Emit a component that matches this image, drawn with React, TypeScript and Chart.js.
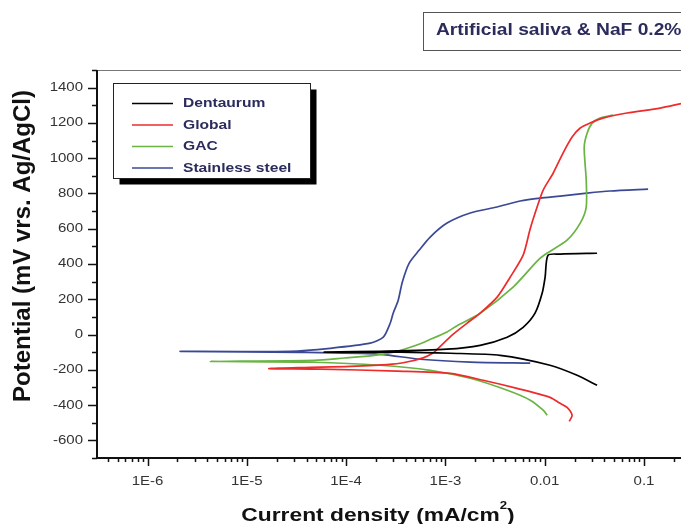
import React, { useEffect, useRef } from "react";
import { Chart, registerables } from "chart.js";

Chart.register(...registerables);

// ---- data (current density mA/cm2, potential mV) ----
const dentaurumCurrent = [3.37e-2, 2.12e-2, 1.13e-2, 3.56e-3, 1.12e-3, 3.5e-4, 6.03e-5, 2.2e-4, 1.04e-3, 2.24e-3, 4.19e-3, 6.07e-3, 8.0e-3, 9.44e-3, 1.01e-2, 1.08e-2, 1.43e-2, 3.37e-2];
const dentaurumPotential = [-288, -231, -174, -118, -106, -100, -100, -95, -83, -61, -15, 41, 121, 235, 325, 450, 456, 461];

const globalCurrent = [1.77e-2, 1.89e-2, 1.68e-2, 1.43e-2, 1.13e-2, 5.27e-3, 2.4e-3, 1.12e-3, 3.27e-4, 5.48e-5, 1.67e-5, 3.79e-5, 1.1e-4, 2.59e-4, 3.76e-4, 5.97e-4, 7.52e-4, 8.26e-4, 1.2e-3, 1.78e-3, 2.24e-3, 3.32e-3, 4.49e-3, 6.07e-3, 7.15e-3, 8.39e-3, 9.66e-3, 1.22e-2, 1.53e-2, 1.89e-2, 2.28e-2, 2.86e-2, 3.87e-2, 6.75e-2, 0.145, 0.236];
const globalPotential = [-492, -458, -413, -390, -356, -305, -259, -220, -207, -196, -193, -187, -181, -170, -160, -132, -105, -84, 2, 78, 121, 212, 325, 450, 600, 723, 819, 916, 1029, 1120, 1171, 1199, 1227, 1256, 1284, 1310];

const gacCurrent = [1.06e-2, 9.66e-3, 7.15e-3, 4.2e-3, 1.78e-3, 7.03e-4, 2.2e-4, 4.68e-5, 4.3e-6, 4.78e-5, 9.57e-5, 1.92e-4, 3.0e-4, 5.0e-4, 7.0e-4, 1.04e-3, 1.31e-3, 2.24e-3, 4.81e-3, 8.59e-3, 1.06e-2, 1.68e-2, 2.28e-2, 2.62e-2, 2.62e-2, 2.5e-2, 2.68e-2, 3.01e-2, 3.61e-2, 4.89e-2];
const gacPotential = [-458, -429, -372, -316, -248, -203, -174, -157, -152, -146, -133, -118, -100, -62, -28, 15, 50, 121, 269, 422, 462, 535, 632, 723, 876, 1063, 1143, 1199, 1227, 1244];

const steelCurrent = [7.15e-3, 1.78e-3, 5.57e-4, 2.2e-4, 3.45e-5, 2.13e-6, 2.73e-5, 6.9e-5, 1.75e-4, 2.37e-4, 2.78e-4, 2.98e-4, 3.35e-4, 3.68e-4, 4.32e-4, 5.45e-4, 7.03e-4, 1.04e-3, 1.78e-3, 3.32e-3, 5.66e-3, 9.0e-3, 1.43e-2, 2.67e-2, 4.56e-2, 0.11];
const steelPotential = [-162, -156, -140, -112, -101, -95, -95, -78, -49, -15, 64, 121, 195, 297, 405, 479, 553, 632, 689, 723, 757, 774, 785, 802, 814, 825];

const seriesLabels = ["Dentaurum", "Global", "GAC", "Stainless steel"];
const seriesColors = ["#000000", "#ee2b2b", "#69b443", "#3b4894"];

const yMajorTicks = [-600, -400, -200, 0, 200, 400, 600, 800, 1000, 1200, 1400];
const yMinorTicks = [-700, -500, -300, -100, 100, 300, 500, 700, 900, 1100, 1300, 1500];
const xMajorTicks = [1e-6, 1e-5, 1e-4, 1e-3, 1e-2, 1e-1];
const xTickLabels = ["1E-6", "1E-5", "1E-4", "1E-3", "0.01", "0.1"];
const xMinorMultipliers = [2, 3, 4, 5, 6, 7, 8, 9];
const xMinorDecades = [1e-7, 1e-6, 1e-5, 1e-4, 1e-3, 1e-2, 1e-1];

const chartTitle = "Artificial saliva & NaF 0.2%";
const xTitle = "Current density (mA/cm";
const yTitle = "Potential (mV vrs. Ag/AgCl)";

const SX = 1.2;
const NAVY = "#2b2b5c";

function sText(ctx: CanvasRenderingContext2D, text: string, x: number, y: number, font: string, color: string, align: CanvasTextAlign) {
  ctx.save();
  ctx.translate(x, y);
  ctx.scale(SX, 1);
  ctx.font = font;
  ctx.fillStyle = color;
  ctx.textAlign = align;
  ctx.textBaseline = "middle";
  ctx.fillText(text, 0, 0);
  ctx.restore();
}

const decor = {
  id: "decor",
  beforeDraw(chart: any) {
    const ctx = chart.ctx;
    ctx.save();
    ctx.fillStyle = "#ffffff";
    ctx.fillRect(0, 0, chart.width, chart.height);
    ctx.restore();
  },
  afterDraw(chart: any) {
    const ctx: CanvasRenderingContext2D = chart.ctx;
    const { left, right, top, bottom } = chart.chartArea;
    const xs = chart.scales.x;
    const ys = chart.scales.y;
    ctx.save();

    // top frame
    ctx.strokeStyle = "#777777";
    ctx.lineWidth = 1;
    ctx.beginPath();
    ctx.moveTo(left, top + 0.5);
    ctx.lineTo(right, top + 0.5);
    ctx.stroke();

    // axes
    ctx.strokeStyle = "#111111";
    ctx.lineWidth = 2;
    ctx.beginPath();
    ctx.moveTo(left, top);
    ctx.lineTo(left, bottom);
    ctx.lineTo(right, bottom);
    ctx.stroke();

    // y ticks
    ctx.lineWidth = 1.5;
    ctx.beginPath();
    yMajorTicks.forEach((v) => {
      const p = Math.round(ys.getPixelForValue(v)) + 0.5;
      ctx.moveTo(left, p);
      ctx.lineTo(left - 9, p);
    });
    yMinorTicks.forEach((v) => {
      const p = Math.round(ys.getPixelForValue(v)) + 0.5;
      ctx.moveTo(left, p);
      ctx.lineTo(left - 5, p);
    });
    // x ticks
    xMajorTicks.forEach((v) => {
      const p = Math.round(xs.getPixelForValue(v)) + 0.5;
      ctx.moveTo(p, bottom);
      ctx.lineTo(p, bottom + 8);
    });
    xMinorDecades.forEach((d) => {
      xMinorMultipliers.forEach((m) => {
        const v = d * m;
        if (v < xs.min || v > xs.max) return;
        const p = Math.round(xs.getPixelForValue(v)) + 0.5;
        ctx.moveTo(p, bottom);
        ctx.lineTo(p, bottom + 4);
      });
    });
    ctx.stroke();

    // tick labels
    const tickFont = "12.5px 'Liberation Sans', Arial, sans-serif";
    yMajorTicks.forEach((v) => {
      sText(ctx, String(v), left - 14, ys.getPixelForValue(v), tickFont, "#333333", "right");
    });
    xMajorTicks.forEach((v, i) => {
      sText(ctx, xTickLabels[i], xs.getPixelForValue(v), bottom + 24, tickFont, "#333333", "center");
    });

    // x title with superscript
    const tf = "bold 19px 'Liberation Sans', Arial, sans-serif";
    const sf = "bold 11px 'Liberation Sans', Arial, sans-serif";
    ctx.font = tf;
    const w1 = ctx.measureText(xTitle).width * SX;
    ctx.font = sf;
    const w2 = ctx.measureText("2").width * SX;
    ctx.font = tf;
    const w3 = ctx.measureText(")").width * SX;
    const total = w1 + w2 + w3;
    const cx = 378;
    const x0 = cx - total / 2;
    const ty = 516;
    sText(ctx, xTitle, x0, ty, tf, "#111111", "left");
    sText(ctx, "2", x0 + w1, ty - 10, sf, "#111111", "left");
    sText(ctx, ")", x0 + w1 + w2, ty, tf, "#111111", "left");

    // y title (rotated)
    ctx.save();
    ctx.translate(23, 246);
    ctx.rotate(-Math.PI / 2);
    ctx.font = "bold 24px 'Liberation Sans', Arial, sans-serif";
    ctx.fillStyle = "#111111";
    ctx.textAlign = "center";
    ctx.textBaseline = "middle";
    ctx.fillText(yTitle, 0, 0);
    ctx.restore();

    // chart title box
    ctx.fillStyle = "#ffffff";
    ctx.fillRect(423.5, 12.5, 270, 38);
    ctx.strokeStyle = "#555555";
    ctx.lineWidth = 1;
    ctx.strokeRect(423.5, 12.5, 270, 38);
    sText(ctx, chartTitle, 436, 31, "bold 16px 'Liberation Sans', Arial, sans-serif", NAVY, "left");

    // legend box with shadow
    const lx = 113.5, ly = 83.5, lw = 197, lh = 95;
    ctx.fillStyle = "#000000";
    ctx.fillRect(lx + 6, ly + 6, lw, lh);
    ctx.fillStyle = "#ffffff";
    ctx.fillRect(lx, ly, lw, lh);
    ctx.strokeStyle = "#222222";
    ctx.strokeRect(lx, ly, lw, lh);
    chart.data.datasets.forEach((ds: any, i: number) => {
      const yy = 103.5 + i * 21.5;
      ctx.strokeStyle = ds.borderColor;
      ctx.lineWidth = 1.5;
      ctx.beginPath();
      ctx.moveTo(132, yy);
      ctx.lineTo(173, yy);
      ctx.stroke();
      sText(ctx, ds.label, 183, yy, "bold 13px 'Liberation Sans', Arial, sans-serif", NAVY, "left");
    });

    ctx.restore();
  },
};

function pts(xv: number[], yv: number[]) {
  return xv.map((x, i) => ({ x, y: yv[i] }));
}

export default function App() {
  const ref = useRef<HTMLCanvasElement | null>(null);
  useEffect(() => {
    if (!ref.current) return;
    const all = [
      [dentaurumCurrent, dentaurumPotential],
      [globalCurrent, globalPotential],
      [gacCurrent, gacPotential],
      [steelCurrent, steelPotential],
    ];
    const chart = new Chart(ref.current, {
      type: "line",
      data: {
        datasets: all.map((s, i) => ({
          label: seriesLabels[i],
          data: pts(s[0], s[1]),
          borderColor: seriesColors[i],
          backgroundColor: seriesColors[i],
          borderWidth: 1.7,
          pointRadius: 0,
          tension: 0.25,
          fill: false,
        })),
      },
      plugins: [decor],
      options: {
        animation: false,
        responsive: false,
        devicePixelRatio: 1,
        layout: { padding: { left: 97, top: 70, right: 0, bottom: 66 } },
        plugins: { legend: { display: false }, tooltip: { enabled: false }, title: { display: false } },
        scales: {
          x: { type: "logarithmic", min: 3.1e-7, max: 0.236, display: false },
          y: { type: "linear", min: -700, max: 1500, display: false },
        },
      },
    });
    return () => chart.destroy();
  }, []);
  return (
    <canvas
      ref={ref}
      width={681}
      height={524}
      style={{ position: "absolute", left: 0, top: 0, width: 681, height: 524 }}
    />
  );
}
